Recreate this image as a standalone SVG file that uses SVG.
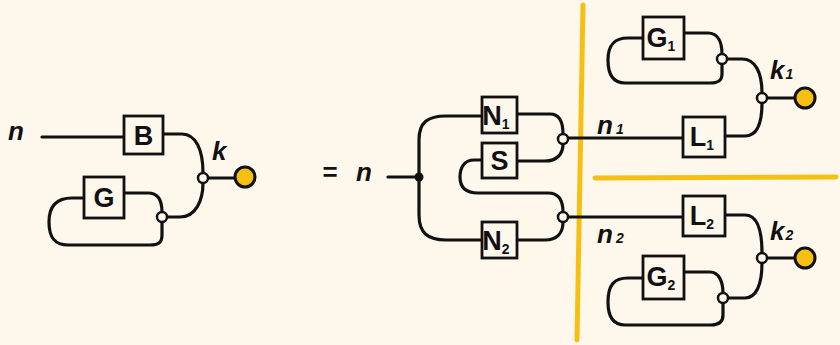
<svg xmlns="http://www.w3.org/2000/svg" width="840" height="345" viewBox="0 0 840 345">
<style>
.bg{fill:#fdf7ec}
.w{fill:none;stroke:#111;stroke-width:3.2;stroke-linecap:round;stroke-linejoin:round}
.box{fill:#fdf7ec;stroke:#111;stroke-width:2.8}
.jn{fill:#fdf7ec;stroke:#111;stroke-width:2.5}
.dot{fill:#f6c013;stroke:#111;stroke-width:3}
.sep{fill:none;stroke:#f6c013;stroke-width:5;stroke-linecap:round}
.t{font-family:"Liberation Sans",Arial,sans-serif;font-size:27px;font-weight:bold;fill:#111;text-anchor:middle}
.lb{font-family:"Liberation Sans",Arial,sans-serif;font-size:26px;font-style:italic;font-weight:bold;fill:#111}
.sub{font-size:14px;font-weight:bold}
</style>
<rect class="bg" x="0" y="0" width="840" height="345"/>
<g id="separators">
<path class="sep" d="M583,5 L577,340"/>
<path class="sep" d="M595,178 L836,177"/>
</g>
<g id="connectors">
<path class="w" d="M42,137 H124"/>
<path class="w" d="M163,134 H182 C196,134 203,150 203,173"/>
<path class="w" d="M167,217 H180 C196,217 203,200 203,183"/>
<path class="w" d="M208,178 H235"/>
<path class="w" d="M124,193 H148 C158,193 162,201 162,212"/>
<path class="w" d="M162,222 V235 C162,243 158,245 150,245 H68 C55,245 49,238 49,222 C49,205 58,198 72,198 H84"/>
<path class="w" d="M388,177 H419"/>
<path class="w" d="M419,177 V140 C419,122 428,116 446,116 H482"/>
<path class="w" d="M419,177 V215 C419,233 428,240 446,240 H482"/>
<path class="w" d="M517,114 H550 C560,114 563,122 563,134"/>
<path class="w" d="M517,161 H545 C557,161 563,154 563,144"/>
<path class="w" d="M482,160 H474 C464,160 460,168 460,177 C460,188 466,193 478,193 H548 C558,193 563,200 563,212"/>
<path class="w" d="M517,240 H545 C557,240 563,233 563,222"/>
<path class="w" d="M568,138 H683"/>
<path class="w" d="M568,217 H683"/>
<path class="w" d="M684,33 H708 C718,33 722,42 722,54"/>
<path class="w" d="M722,64 V74 C722,81 718,83 710,83 H625 C614,83 608,76 608,60 C608,45 614,38 628,38 H643"/>
<path class="w" d="M727,59 H742 C755,59 762,72 762,93"/>
<path class="w" d="M725,136 H745 C756,136 762,125 762,103"/>
<path class="w" d="M767,98 H795"/>
<path class="w" d="M725,215 H745 C756,215 762,228 762,253"/>
<path class="w" d="M684,272 H710 C719,272 723,282 723,293"/>
<path class="w" d="M723,303 V315 C723,322 719,325 711,325 H625 C614,325 608,318 608,302 C608,285 614,278 628,278 H643"/>
<path class="w" d="M728,298 H745 C756,298 762,285 762,263"/>
<path class="w" d="M767,258 H795"/>
</g>
<g id="label-n-left"><text class="lb" x="8" y="140">n</text></g>
<g id="B"><rect class="box" x="124" y="116" width="39" height="38"/><text class="t" x="143.5" y="145">B</text></g>
<g id="G"><rect class="box" x="84" y="177" width="40" height="41"/><text class="t" x="104" y="207">G</text></g>
<g id="j-left-1"><circle class="jn" cx="203" cy="178" r="5"/></g>
<g id="j-left-2"><circle class="jn" cx="162" cy="217" r="5"/></g>
<g id="k-out"><circle class="dot" cx="245" cy="177" r="10"/><text class="lb" x="212" y="160">k</text></g>
<g id="eq"><text class="lb" x="322" y="181">=</text><text class="lb" x="356" y="181">n</text></g>
<g id="split"><circle cx="419" cy="177" r="4.5" fill="#111"/></g>
<g id="N1"><rect class="box" x="482" y="97" width="35" height="36"/><text class="t" x="496" y="125">N<tspan class="sub" dy="4">1</tspan></text></g>
<g id="S"><rect class="box" x="482" y="143" width="35" height="35"/><text class="t" x="499.5" y="170">S</text></g>
<g id="N2"><rect class="box" x="482" y="222" width="35" height="36"/><text class="t" x="496" y="250">N<tspan class="sub" dy="4">2</tspan></text></g>
<g id="j-mid-1"><circle class="jn" cx="563" cy="139" r="5"/></g>
<g id="j-mid-2"><circle class="jn" cx="563" cy="217" r="5"/></g>
<g id="n1"><text class="lb" x="597" y="134">n<tspan class="sub" dx="3">1</tspan></text></g>
<g id="n2"><text class="lb" x="597" y="243">n<tspan class="sub" dx="3">2</tspan></text></g>
<g id="G1"><rect class="box" x="643" y="17" width="41" height="42"/><text class="t" x="661" y="47">G<tspan class="sub" dy="4">1</tspan></text></g>
<g id="j-g1"><circle class="jn" cx="722" cy="59" r="5"/></g>
<g id="L1"><rect class="box" x="683" y="117" width="42" height="40"/><text class="t" x="702" y="146">L<tspan class="sub" dy="4">1</tspan></text></g>
<g id="j-k1"><circle class="jn" cx="762" cy="98" r="5"/></g>
<g id="k1"><circle class="dot" cx="805" cy="98" r="10"/><text class="lb" x="770" y="79">k<tspan class="sub" dx="1">1</tspan></text></g>
<g id="L2"><rect class="box" x="683" y="196" width="42" height="40"/><text class="t" x="702" y="225">L<tspan class="sub" dy="4">2</tspan></text></g>
<g id="j-k2"><circle class="jn" cx="762" cy="258" r="5"/></g>
<g id="k2"><circle class="dot" cx="805" cy="258" r="10"/><text class="lb" x="770" y="240">k<tspan class="sub" dx="1">2</tspan></text></g>
<g id="G2"><rect class="box" x="643" y="256" width="41" height="43"/><text class="t" x="661" y="286">G<tspan class="sub" dy="4">2</tspan></text></g>
<g id="j-g2"><circle class="jn" cx="723" cy="298" r="5"/></g>
</svg>
